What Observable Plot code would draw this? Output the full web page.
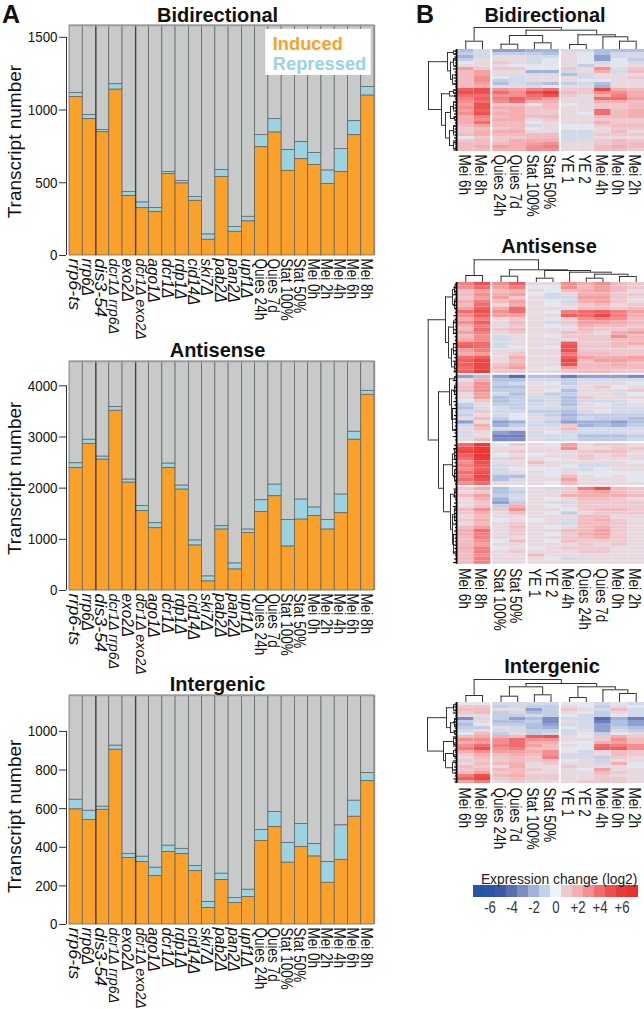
<!DOCTYPE html>
<html><head><meta charset="utf-8">
<script src="https://cdn.jsdelivr.net/npm/d3@7"></script>
<script src="https://cdn.jsdelivr.net/npm/@observablehq/plot@0.6"></script>
<style>
html,body{margin:0;padding:0;background:#fff}
#page{position:relative;width:644px;height:1009px;overflow:hidden;background:#fff}
#page>div.p{position:absolute}
#page svg{overflow:visible;display:block;background:transparent}
.letter{position:absolute;font:bold 25px "Liberation Sans",Arial,sans-serif;color:#111;line-height:25px}
</style></head><body><div id="page"></div>
<script>
const samples=["rrp6-ts","rrp6Δ","dis3-54","dcr1Δ rrp6Δ","exo2Δ","dcr1Δ exo2Δ","ago1Δ","dcr1Δ","rdp1Δ","cid14Δ","ski7Δ","pab2Δ","pan2Δ","upf1Δ","Quies 24h","Quies 7d","Stat 100%","Stat 50%","Mei 0h","Mei 2h","Mei 4h","Mei 6h","Mei 8h"];
const mutantCount=14;
const bidirInduced=[1090,937,847,1140,408,325,300,559,495,376,108,540,163,234,744,845,582,662,623,492,573,827,1099];
const bidirRepressed=[27,29,16,37,29,39,27,16,18,27,36,48,34,32,85,94,142,117,82,92,160,96,60];
const antiInduced=[2393,2862,2556,3512,2107,1554,1216,2393,1971,878,176,1190,410,1125,1535,1841,859,1385,1457,1190,1509,2946,3824];
const antiRepressed=[92,84,59,72,59,98,98,85,78,98,97,65,117,65,228,227,520,391,163,189,364,156,78];
const interInduced=[596,542,594,905,345,323,252,375,364,276,85,230,112,143,433,504,320,402,352,216,335,558,743];
const interRepressed=[50,47,16,21,21,28,42,33,28,26,31,33,26,37,57,78,103,118,64,107,178,83,41];
const bidirTicks=[0,500,1000,1500], antiTicks=[0,1000,2000,3000,4000], interTicks=[0,200,400,600,800,1000];

// heat values are in half log2 steps, one row per transcript band
const colsBidir=["Mei 6h","Mei 8h","Quies 24h","Quies 7d","Stat 100%","Stat 50%","YE 1","YE 2","Mei 4h","Mei 0h","Mei 2h"];
const colsAnti=["Mei 6h","Mei 8h","Stat 100%","Stat 50%","YE 1","YE 2","Mei 4h","Quies 24h","Quies 7d","Mei 0h","Mei 2h"];
const heatBidir=[
[-3,-1,-5,-5,-4,-4,-1,-1,-3,-3,-3],[-2,-1,-2,-2,-2,-3,1,0,-3,-1,-1],[-4,-1,1,1,-1,-1,1,0,-5,-1,-1],[-2,1,1,1,-1,0,1,0,-5,0,-2],
[0,1,2,1,-1,0,1,0,-1,0,-1],[1,1,1,0,0,0,1,-2,1,0,1],[5,2,2,2,0,0,2,1,6,1,2],[3,5,1,1,-4,-4,-1,1,4,-1,3],
[3,5,1,1,-1,-1,-3,-1,1,1,1],[3,6,0,-1,1,1,1,-1,1,1,2],[3,6,-2,-1,1,1,1,0,0,1,1],[3,5,-3,-1,-2,-3,-2,-1,-3,1,1],[3,4,1,1,-1,0,1,1,-4,1,1],
[9,10,6,5,7,8,2,2,11,4,3],[10,10,8,6,10,12,3,2,6,6,4],[8,8,6,6,8,10,2,1,4,7,4],[7,9,7,9,7,5,1,1,8,8,5],[6,8,6,8,4,4,1,1,4,4,3],
[5,10,2,2,0,3,0,1,2,2,3],[6,10,4,4,2,3,1,1,2,2,3],[5,9,3,4,2,2,1,1,8,3,4],[6,10,4,4,2,2,1,0,8,3,4],[4,7,3,4,3,3,1,1,3,3,4],
[4,6,4,4,1,2,1,1,2,2,2],[4,8,3,3,0,1,1,1,4,2,2],[3,5,3,3,-1,1,0,0,2,3,3],[2,3,2,3,0,1,0,0,1,2,2],[2,4,4,4,1,1,-1,-1,1,3,1],
[3,4,3,3,3,3,-1,-1,2,2,2],[0,2,2,2,3,3,-1,-1,1,1,1],[2,3,2,4,4,4,-1,1,2,3,2],[3,3,3,4,5,6,1,1,2,3,3],[3,4,5,4,6,7,1,1,3,4,3],[3,3,4,4,6,6,1,1,3,3,2]];
const heatAnti=[
[7,10,6,9,1,1,6,4,6,3,2],[6,8,5,7,0,0,6,3,5,3,2],[3,5,3,4,1,0,3,4,5,3,1],[3,6,4,5,0,-1,1,4,4,2,2],[2,5,5,2,1,-1,-1,5,5,2,1],
[4,7,3,5,1,0,-1,4,5,2,1],[3,8,1,4,1,0,1,2,3,1,2],[5,9,4,8,1,1,1,3,3,2,3],[8,10,6,8,1,0,7,8,9,7,5],[6,9,5,5,1,1,9,8,11,7,4],
[4,7,1,2,1,0,2,6,7,6,3],[6,9,1,3,1,-1,2,5,5,4,3],[4,7,1,2,1,0,1,4,3,3,2],[3,8,2,3,1,1,1,3,2,2,3],[5,7,1,2,1,1,3,2,1,4,5],
[3,6,-1,1,1,0,2,2,2,6,3],[4,6,-1,1,1,1,1,2,2,3,3],[8,8,-1,1,1,1,9,2,2,3,4],[9,8,-1,0,1,0,10,2,2,3,2],[5,7,1,1,1,1,10,2,2,2,2],
[4,5,1,2,1,1,7,3,3,2,2],[8,9,1,4,1,1,9,5,4,4,5],[9,11,1,3,1,1,11,3,5,5,4],[9,11,2,4,1,1,10,3,3,4,3],[8,11,3,5,1,0,5,3,3,3,3],[9,12,2,2,1,1,2,3,3,2,2],
[-5,-3,-5,-8,-3,-3,-7,-5,-5,-5,-6],[1,4,-3,-3,-1,-1,-2,-1,-1,-1,-1],[2,6,-2,-1,1,0,-2,1,1,1,0],[3,6,-3,-3,1,1,-1,1,2,0,1],[3,6,-2,-2,1,0,-3,1,1,1,2],
[1,5,-1,-3,1,-2,-2,1,1,-1,0],[1,5,-3,-2,-1,-1,-3,2,1,1,1],[0,2,-3,-2,-2,-1,-3,-1,-1,-1,0],[-2,1,-2,-2,-1,1,-3,1,0,-1,1],[-3,-1,-1,-2,-1,-1,-2,1,1,-1,-1],
[-1,2,-1,-1,-2,-2,-3,-1,0,-1,-1],[-2,1,-1,0,-1,-2,-4,-2,-2,-2,-2],[1,3,-2,0,1,-1,-3,-1,-2,-2,-3],[-5,1,-5,-4,-1,-2,-5,-4,-4,-5,-3],[-1,4,-4,-2,-1,-1,2,-4,-3,-4,-2],
[1,3,-1,1,1,1,3,-1,-1,-1,-1],[-1,1,-5,-6,-1,0,-1,-1,-1,-1,1],[-1,1,-7,-7,-1,-1,-1,-3,-3,-3,-2],[1,3,-6,-6,1,-1,-1,-2,-2,-2,-1],
[8,12,0,2,1,0,5,1,2,2,1],[10,12,1,1,1,1,6,1,1,2,2],[11,13,1,2,1,1,1,2,3,3,1],[9,13,0,1,0,1,1,2,1,2,1],[8,12,-1,2,1,0,1,2,1,1,1],[6,10,1,1,3,1,1,1,1,1,0],
[7,9,-1,1,1,1,0,-1,-1,1,1],[6,9,-1,0,0,0,1,-1,0,1,1],[8,10,-1,1,1,0,1,0,0,0,0],[7,11,-3,-3,1,0,3,1,0,1,0],[8,10,-3,-1,1,1,5,1,1,1,0],[6,8,1,1,1,0,3,1,1,1,1],
[2,4,-3,-1,1,-1,2,7,10,3,2],[1,2,-3,-2,1,1,2,4,5,3,2],[3,5,-2,-1,1,1,4,4,4,4,3],[1,4,-4,-1,1,0,1,3,3,2,1],[1,2,-5,-2,1,1,-1,2,2,2,2],[1,3,-2,4,1,0,1,2,2,2,2],
[3,6,2,6,1,1,0,2,3,3,2],[2,4,1,3,1,0,-2,1,2,2,2],[1,3,1,1,1,1,1,3,3,1,1],[2,4,0,1,0,1,-1,3,4,2,1],[1,3,1,2,1,1,-1,3,3,2,1],[3,5,1,3,1,0,1,3,4,2,1],
[4,8,1,2,1,1,3,3,5,2,1],[4,7,1,2,1,0,2,4,5,2,1],[3,7,1,1,1,1,2,3,4,2,1],[3,6,0,3,1,0,3,2,2,2,1],[3,5,1,1,1,1,1,2,1,2,1],[4,7,0,1,0,1,2,2,2,1,1],
[3,7,1,2,1,1,1,2,2,1,1],[3,6,1,1,3,1,1,1,1,1,1],[3,7,1,1,1,0,-1,1,1,1,1],[3,7,1,1,1,1,1,1,1,1,1]];
const heatInter=[
[0,0,-1,-1,-1,-1,0,0,-1,0,-1],[2,2,-2,-1,-2,-2,1,0,-2,1,0],[3,3,1,1,-5,-2,2,1,-1,3,-1],[2,3,-2,-1,-3,-2,1,0,-2,1,-1],[1,1,-2,-2,-1,-2,0,-1,-2,0,-1],
[-6,-1,-2,-5,-3,-6,-1,-1,-8,-4,-7],[-2,1,-3,-3,-2,-6,1,-1,-7,-3,-5],[-3,0,-2,-2,-3,-5,-1,-1,-5,-3,-5],[-2,-2,1,-1,-3,-4,0,-1,-5,-2,-3],[-1,1,-1,-1,-2,-2,-1,1,-5,-1,-2],[0,3,-2,1,-2,-1,-1,0,-2,0,1],
[3,4,4,3,9,10,1,0,2,4,2],[6,6,6,8,6,6,1,1,2,6,3],[4,5,6,8,4,4,0,0,4,5,3],[6,8,7,8,5,3,1,0,8,7,6],[7,10,6,7,3,3,0,0,9,9,6],[4,6,5,5,4,6,0,-1,1,3,2],
[2,4,3,4,3,6,-1,-1,1,3,2],[1,3,2,3,2,7,-1,-1,-2,2,1],[2,2,2,3,2,3,0,1,2,1,1],[1,3,3,4,1,2,1,1,-1,4,0],[3,2,1,4,1,1,2,1,1,1,0],[2,3,3,3,2,1,1,0,5,1,1],[3,5,2,3,1,1,1,1,3,2,1],
[7,10,3,4,2,2,1,1,2,1,1],[9,11,2,3,2,2,1,1,2,2,1],[5,7,1,2,1,1,1,2,2,2,1]];

// dendrograms: [height, left, right]; leaf = column name or row span
const topBidir=[22,[8.3,"Mei 6h","Mei 8h"],[19.3,[14,[5.3,"Quies 24h","Quies 7d"],[6.7,"Stat 100%","Stat 50%"]],[14.7,[5,"YE 1","YE 2"],[12.7,"Mei 4h",[8.3,"Mei 0h","Mei 2h"]]]]];
const topAnti=[22.7,[7,"Mei 6h","Mei 8h"],[12.7,[6.3,"Stat 100%","Stat 50%"],[12,[4.3,"YE 1","YE 2"],[10.3,"Mei 4h",[8.3,[4.3,"Quies 24h","Quies 7d"],[6,"Mei 0h","Mei 2h"]]]]]];
const topInter=[23,[7,"Mei 6h","Mei 8h"],[19,[15.7,[6.3,"Quies 24h","Quies 7d"],[7.7,"Stat 100%","Stat 50%"]],[15.7,[5,"YE 1","YE 2"],[12.7,"Mei 4h",[9,"Mei 0h","Mei 2h"]]]]];
const leftBidir=[29,[10,[4,[0,1],[1,2]],[7,[4,[2,4],[4,7]],[5,[7,10],[10,13]]]],[16,[8,[4,[13,14],[14,15]],[3,[15,15.5],[15.5,16]]],[12,[7,[4,[16,19],[19,22]],[3,[22,23],[23,24]]],[8,[4,[24,27],[27,30]],[4,[30,32],[32,34]]]]]];
const leftAnti=[29.3,[12,[5,[3,[0,2],[2,4]],[3,[4,6],[6,9]]],[9,[4,[9,13],[13,16]],[6,[4,[16,19],[19,22]],[3,[22,24],[24,26]]]]],
 [19,[8,[3,[26,27],[27,28]],[6,[3,[28,30],[30,33]],[5,[33,38],[38,45]]]],[14,[5,[3,[45,48],[48,51]],[3,[51,54],[54,57]]],[7,[3,[57,59],[59,61]],[5,[3,[61,65],[65,68]],[4,[68,73],[73,79]]]]]]];
const leftInter=[30,[11,[4,[0,1.5],[1.5,4]],[7,[3,[4,7],[7,9]],[3,[9,10],[10,11]]]],[14,[4,[11,13],[13,15]],[12,[4,[15,17],[17,19]],[5,[19,21],[21,26]]]]];
const toothLen=[2.2,3.6,2.6,4.2,1.8,3,4,2.4];

const legendSteps=[-7,-6,-5,-4,-3,-2,-1,0,1,2,3,4,5,6,7];
const legendTicks=[-6,-4,-2,0,2,4,6];
const legendColors=["#2356a6","#2c55a5","#3a5aa9","#5a6fb3","#7d8dc4","#a0b1da","#c2d2ea","#e8f4f7","#edc9cf","#f4aeb0","#f48f90","#f26c6d","#ee4f4f","#ec3a38","#ea2f2e"];
const heatColors=["#2356a6","#2c55a5","#3a5aa9","#5a6fb3","#7d8dc4","#a0b1da","#c2cde6","#e2e6ee","#edc9cf","#f4aeb0","#f48f90","#f26c6d","#ee4f4f","#ec3a38","#ea2f2e"];
const kindNames=["Induced","Repressed","Rest"];
const kindColors=["#f9a12a","#9bd3e2","#c8c9c9"];

const page=document.getElementById("page");
const SANS='"Liberation Sans",Arial,sans-serif';
function place(node,left,top){const d=document.createElement("div");d.className="p";d.style.left=left+"px";d.style.top=top+"px";d.appendChild(node);page.appendChild(d);}

function barChart({top,bottomPx,topPx,yMax,ticks,induced,repressed,title,titleDy,labelY,legend}){
  const rows=[];
  samples.forEach((s,i)=>{
    const a=induced[i],b=a+repressed[i];
    rows.push({i,kind:"Rest",y1:b,y2:yMax},{i,kind:"Repressed",y1:a,y2:b},{i,kind:"Induced",y1:0,y2:a});
  });
  const lab=samples.map((s,i)=>({s,i}));
  const marks=[
    Plot.rect(rows,{x1:d=>d.i,x2:d=>d.i+1,y1:"y1",y2:"y2",fill:"kind",stroke:"#5a5f60",strokeWidth:0.7}),
    Plot.ruleX([2,5],{stroke:"#222",strokeWidth:0.9}),
    Plot.ruleX([23],{stroke:"#8a8a8a",strokeWidth:1.4}),
    Plot.ruleY([yMax],{stroke:"#9a9a9a",strokeWidth:1.4}),
    Plot.ruleX([0],{y1:0,y2:ticks[ticks.length-1],dx:-3,stroke:"#333",strokeWidth:1}),
    Plot.axisY({ticks,tickSize:7,dx:-3,tickPadding:2,fontSize:15.5,fontFamily:SANS,stroke:"#333",fill:"#111",tickFormat:d=>String(d),label:null}),
    Plot.text([labelY],{x:0,y:d=>d,text:()=>"Transcript number",rotate:-90,dx:-55,fontSize:19,fontFamily:SANS,fill:"#111"}),
    Plot.text(lab.filter(d=>d.i<mutantCount&&!d.s.includes(" ")),{className:"squeeze-it",x:d=>d.i+0.5,y:0,text:"s",rotate:90,textAnchor:"start",dx:-2,dy:3,fontSize:17,fontStyle:"italic",fontFamily:SANS,fill:"#111"}),
    Plot.text(lab.filter(d=>d.s.includes(" ")&&d.i<mutantCount),{x:d=>d.i+0.5,y:0,text:"s",rotate:90,textAnchor:"start",dx:-2,dy:3,fontSize:14.3,fontStyle:"italic",fontFamily:SANS,fill:"#111"}),
    Plot.text(lab.filter(d=>d.i>=mutantCount),{className:"squeeze",x:d=>d.i+0.5,y:0,text:"s",rotate:90,textAnchor:"start",dx:-2,dy:3,fontSize:16.5,fontFamily:SANS,fill:"#111"}),
    Plot.text([title],{x:11.5,y:yMax,text:d=>d,dx:-4.5,dy:titleDy,fontSize:20,fontWeight:"bold",fontFamily:SANS,fill:"#111"})
  ];
  if(legend){
    marks.push(Plot.rect(["box"],{x1:14.8,x2:22.75,y1:yMax*0.983,y2:yMax*0.783,fill:"#fff"}));
    marks.push(Plot.text(["Induced"],{x:14.8,y:yMax*0.917,text:d=>d,textAnchor:"start",dx:7,fontSize:18.3,fontWeight:"bold",fontFamily:SANS,fill:kindColors[0]}));
    marks.push(Plot.text(["Repressed"],{x:14.8,y:yMax*0.833,text:d=>d,textAnchor:"start",dx:7,fontSize:18.3,fontWeight:"bold",fontFamily:SANS,fill:kindColors[1]}));
  }
  const plot=Plot.plot({width:400,height:bottomPx-top+85,marginLeft:69,marginRight:26,marginTop:topPx-top,marginBottom:85,
    x:{domain:[0,23],axis:null},y:{domain:[0,yMax],axis:null},
    color:{domain:kindNames,range:kindColors},marks});
  place(plot,0,top);
}

function walk(node,pos,bars,stems){
  if(node.length!==3){return {p:pos(node),h:0};}
  const [h,l,r]=node;
  const a=walk(l,pos,bars,stems),b=walk(r,pos,bars,stems);
  bars.push({a:a.p,b:b.p,h});
  stems.push({p:a.p,h0:a.h,h1:h},{p:b.p,h0:b.h,h1:h});
  return {p:(a.p+b.p)/2,h};
}

function heat({title,titleX,titleY,topTree,leftTree,cols,groups,matrix,rowBreaks,topPx,rowPx,labelPx}){
  const gapCol=0.12,gapRow=0.5;
  const colPos={};let x=0;let ci=0;
  groups.forEach((g,gi)=>{for(let k=0;k<g;k++){colPos[cols[ci++]]=x;x+=1;} if(gi<groups.length-1)x+=gapCol;});
  const xMax=x;
  const rowPos=r=>r+gapRow*rowBreaks.filter(b=>b<r).length+(rowBreaks.includes(r)?gapRow:0);
  const nRows=matrix.length;
  const yMax=rowPos(nRows);
  const cells=[];
  matrix.forEach((row,r)=>row.forEach((v,c)=>cells.push({x:colPos[cols[c]],r,v:v/2})));
  const hPx=Math.round(yMax*rowPx*10)/10;
  const plotW=224,mL=37,left=420;
  const main=Plot.plot({width:plotW,height:hPx,marginLeft:mL,marginRight:0,marginTop:0,marginBottom:0,
    x:{domain:[0,xMax],axis:null},y:{domain:[0,yMax],reverse:true,axis:null},
    color:{type:"linear",domain:legendSteps,range:heatColors,interpolate:"rgb"},
    marks:[
      Plot.rect(cells,{x1:"x",x2:d=>d.x+1,y1:d=>rowPos(d.r),y2:d=>rowPos(d.r)+1,fill:"v",inset:0}),
      Plot.text(cols,{className:"squeeze",x:d=>colPos[d]+0.5,y:yMax,text:d=>d,rotate:90,textAnchor:"start",dx:-2,dy:labelPx,fontSize:16.5,fontFamily:SANS,fill:"#111"})
    ]});
  place(main,left,topPx);
  const tb=[],ts=[];walk(topTree,n=>colPos[n]+0.5,tb,ts);
  const H=26;
  const treeT=Plot.plot({width:plotW,height:H,marginLeft:mL,marginRight:0,marginTop:0,marginBottom:0,
    x:{domain:[0,xMax],axis:null},y:{domain:[0,H],axis:null},
    marks:[Plot.ruleY(tb,{x1:"a",x2:"b",y:"h",stroke:"#333",strokeWidth:1}),Plot.ruleX(ts,{x:"p",y1:"h0",y2:"h1",stroke:"#333",strokeWidth:1})]});
  place(treeT,left,topPx-H);
  const lb=[],ls=[];walk(leftTree,s=>(rowPos(s[0])+rowPos(s[1]))/2,lb,ls);
  const rowsIdx=d3.range(nRows);
  const W=37;
  const treeL=Plot.plot({width:W,height:hPx,marginLeft:0,marginRight:0,marginTop:0,marginBottom:0,
    x:{domain:[W,0],axis:null},y:{domain:[0,yMax],reverse:true,axis:null},
    marks:[
      Plot.ruleX(lb,{y1:"a",y2:"b",x:"h",stroke:"#333",strokeWidth:1}),
      Plot.ruleY(ls,{y:"p",x1:"h0",x2:"h1",stroke:"#333",strokeWidth:1}),
      Plot.ruleY(rowsIdx,{y:r=>rowPos(r)+0.5,x1:0,x2:r=>toothLen[r%toothLen.length],stroke:"#000",strokeWidth:1.1}),
      Plot.ruleX([0.9],{y1:0,y2:yMax,stroke:"#000",strokeWidth:1.8})
    ]});
  place(treeL,left,topPx);
  const t=document.createElement("div");
  t.textContent=title;t.style.cssText=`position:absolute;left:${titleX-100}px;width:200px;text-align:center;top:${titleY-20}px;font:bold 20px/24px ${SANS};color:#111`;
  page.appendChild(t);
}

barChart({top:0,topPx:25,bottomPx:255,yMax:1581,ticks:bidirTicks,induced:bidirInduced,repressed:bidirRepressed,title:"Bidirectional",titleDy:-10,labelY:783,legend:true});
barChart({top:340,topPx:361,bottomPx:590,yMax:4475,ticks:antiTicks,induced:antiInduced,repressed:antiRepressed,title:"Antisense",titleDy:-11,labelY:2192});
barChart({top:670,topPx:695,bottomPx:924,yMax:1186,ticks:interTicks,induced:interInduced,repressed:interRepressed,title:"Intergenic",titleDy:-11,labelY:560});

heat({title:"Bidirectional",titleX:545,titleY:23,topTree:topBidir,leftTree:leftBidir,cols:colsBidir,groups:[2,4,5],matrix:heatBidir,rowBreaks:[],topPx:49,rowPx:3,labelPx:3});
heat({title:"Antisense",titleX:549,titleY:254,topTree:topAnti,leftTree:leftAnti,cols:colsAnti,groups:[2,2,7],matrix:heatAnti,rowBreaks:[26,45,57],topPx:281.5,rowPx:3.5,labelPx:4});
heat({title:"Intergenic",titleX:552,titleY:674,topTree:topInter,leftTree:leftInter,cols:colsBidir,groups:[2,4,5],matrix:heatInter,rowBreaks:[],topPx:702,rowPx:3,labelPx:4});

const legend=Plot.plot({width:184,height:60,marginLeft:11.3,marginRight:4,marginTop:25,marginBottom:23,
  x:{domain:legendSteps,axis:null,padding:0},y:{axis:null},
  color:{domain:legendSteps,range:legendColors,type:"ordinal"},
  marks:[
    Plot.cell(legendSteps,{x:d=>d,fill:d=>d}),
    Plot.text(legendTicks,{className:"squeeze",x:d=>d,frameAnchor:"bottom",lineAnchor:"top",dy:4,text:d=>d>0?"+"+d:String(d),fontSize:16,fontFamily:SANS,fill:"#333"}),
    Plot.text(["Expression change (log2)"],{frameAnchor:"top",lineAnchor:"bottom",dx:3,dy:-2,text:d=>d,fontSize:13.8,fontFamily:SANS,fill:"#222"})
  ]});
place(legend,460,860);

[["A",2,2],["B",416,2]].forEach(([s,l,t])=>{const e=document.createElement("div");e.className="letter";e.textContent=s;e.style.left=l+"px";e.style.top=t+"px";page.appendChild(e);});

// condense tall, narrow lettering of the reference
function squeeze(el,k){el.setAttribute("textLength",(el.getComputedTextLength()*k).toFixed(1));el.setAttribute("lengthAdjust","spacingAndGlyphs");}
document.querySelectorAll(".squeeze text").forEach(el=>squeeze(el,0.82));
document.querySelectorAll('[aria-label="y-axis tick label"] text').forEach(el=>squeeze(el,0.86));
document.querySelectorAll(".squeeze-it text").forEach(el=>{squeeze(el,el.textContent.includes("Δ")?0.9:1.05);});
</script></body></html>
